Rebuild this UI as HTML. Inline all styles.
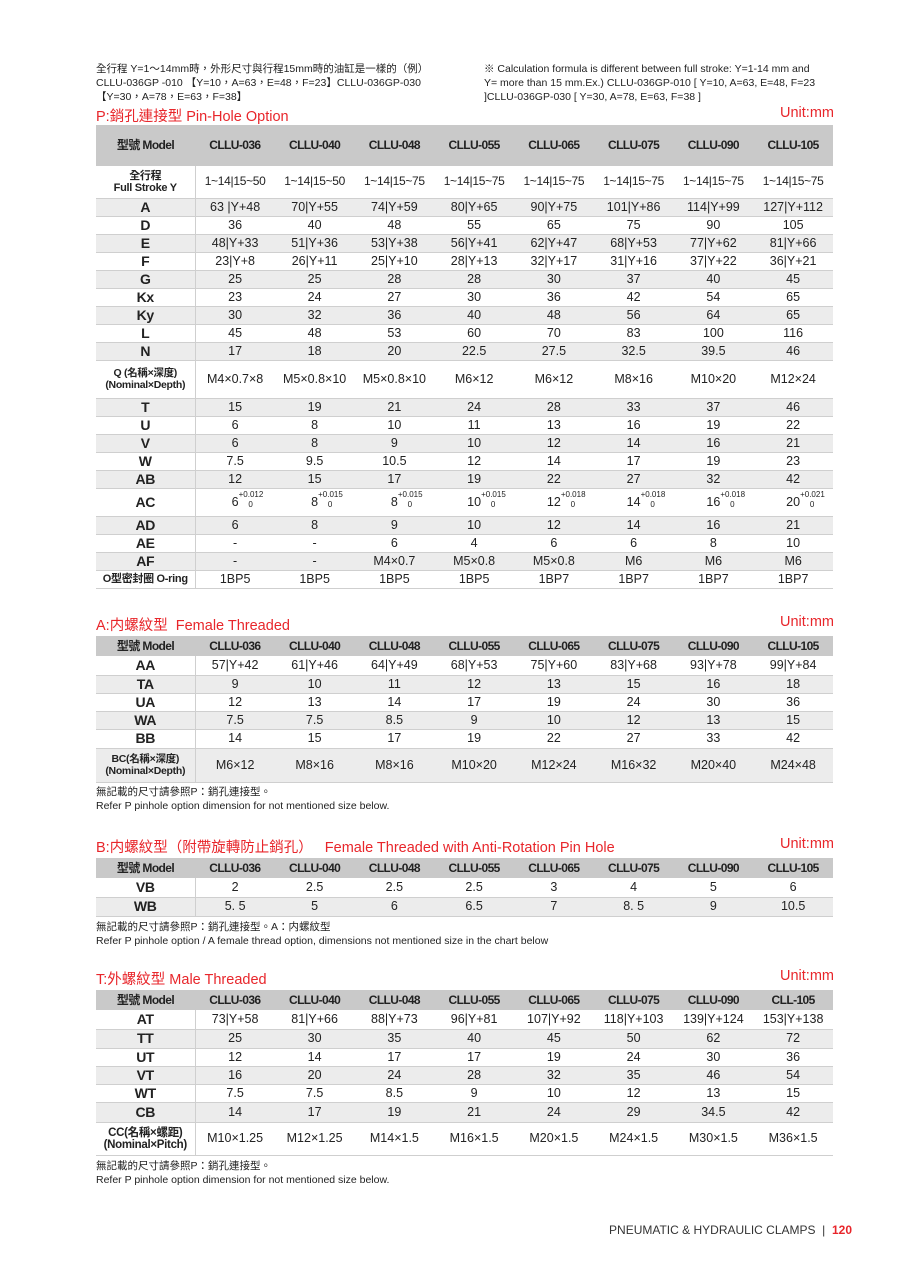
<!DOCTYPE html>
<html><head><meta charset="utf-8"><style>
*{margin:0;padding:0;box-sizing:border-box}
body{width:900px;height:1273px;background:#fff;position:relative;font-family:"Liberation Sans","Noto Sans CJK TC",sans-serif;color:#222;overflow:hidden}
.t{position:absolute;font-size:10.5px;line-height:14px;color:#222}
.red{position:absolute;color:#e8262b;font-size:14.5px;font-weight:normal}
.unit{position:absolute;right:66px;color:#e8262b;font-size:14.5px}
table{position:absolute;left:96px;width:737px;border-collapse:collapse;table-layout:fixed}
td{text-align:center;font-size:12.5px;padding:0;border-bottom:1.5px solid #cfcfcf;white-space:nowrap;line-height:13px}
td:first-child{width:99px;font-weight:bold;font-size:14px;border-right:1.5px solid #cfcfcf;letter-spacing:-0.3px}
tr.h td{background:#c9c9c9;font-weight:bold;font-size:12px;letter-spacing:-0.6px;border-right:none;border-bottom:none}
tr.h td:first-child{font-size:12px}
tr.g td{background:#ececec}
td.s{font-size:10.5px;line-height:12px}
tr.fs td{font-size:12px;letter-spacing:-0.3px}
.ac{display:inline-block;position:relative}
.ac span{position:absolute;left:100%;font-size:8px;line-height:10px;text-align:center;width:24px}
</style></head><body>
<div class="t" style="left:96px;top:62px;width:360px">全行程 Y=1～14mm時，外形尺寸與行程15mm時的油缸是一樣的（例）<br>CLLU-036GP -010 【Y=10，A=63，E=48，F=23】CLLU-036GP-030<br>【Y=30，A=78，E=63，F=38】</div>
<div class="t" style="left:484px;top:62px;width:360px">※ Calculation formula is different between full stroke: Y=1-14 mm and<br>Y= more than 15 mm.Ex.) CLLU-036GP-010 [ Y=10, A=63, E=48, F=23<br>]CLLU-036GP-030 [ Y=30, A=78, E=63, F=38 ]</div>
<div class="red" style="left:96px;top:105px">P:銷孔連接型 Pin-Hole Option</div>
<div class="unit" style="top:105px">Unit:mm</div>
<table style="top:125px">
<tr class="h" style="height:41px"><td>型號 Model</td><td>CLLU-036</td><td>CLLU-040</td><td>CLLU-048</td><td>CLLU-055</td><td>CLLU-065</td><td>CLLU-075</td><td>CLLU-090</td><td>CLLU-105</td></tr>
<tr class="fs" style="height:32px"><td class="s" style="font-size:11px">全行程<br>Full Stroke Y</td><td>1~14|15~50</td><td>1~14|15~50</td><td>1~14|15~75</td><td>1~14|15~75</td><td>1~14|15~75</td><td>1~14|15~75</td><td>1~14|15~75</td><td>1~14|15~75</td></tr>
<tr class="g" style="height:18px"><td>A</td><td>63 |Y+48</td><td>70|Y+55</td><td>74|Y+59</td><td>80|Y+65</td><td>90|Y+75</td><td>101|Y+86</td><td>114|Y+99</td><td>127|Y+112</td></tr>
<tr style="height:18px"><td>D</td><td>36</td><td>40</td><td>48</td><td>55</td><td>65</td><td>75</td><td>90</td><td>105</td></tr>
<tr class="g" style="height:18px"><td>E</td><td>48|Y+33</td><td>51|Y+36</td><td>53|Y+38</td><td>56|Y+41</td><td>62|Y+47</td><td>68|Y+53</td><td>77|Y+62</td><td>81|Y+66</td></tr>
<tr style="height:18px"><td>F</td><td>23|Y+8</td><td>26|Y+11</td><td>25|Y+10</td><td>28|Y+13</td><td>32|Y+17</td><td>31|Y+16</td><td>37|Y+22</td><td>36|Y+21</td></tr>
<tr class="g" style="height:18px"><td>G</td><td>25</td><td>25</td><td>28</td><td>28</td><td>30</td><td>37</td><td>40</td><td>45</td></tr>
<tr style="height:18px"><td>Kx</td><td>23</td><td>24</td><td>27</td><td>30</td><td>36</td><td>42</td><td>54</td><td>65</td></tr>
<tr class="g" style="height:18px"><td>Ky</td><td>30</td><td>32</td><td>36</td><td>40</td><td>48</td><td>56</td><td>64</td><td>65</td></tr>
<tr style="height:18px"><td>L</td><td>45</td><td>48</td><td>53</td><td>60</td><td>70</td><td>83</td><td>100</td><td>116</td></tr>
<tr class="g" style="height:18px"><td>N</td><td>17</td><td>18</td><td>20</td><td>22.5</td><td>27.5</td><td>32.5</td><td>39.5</td><td>46</td></tr>
<tr style="height:38px"><td class="s">Q (名稱×深度)<br>(Nominal×Depth)</td><td>M4×0.7×8</td><td>M5×0.8×10</td><td>M5×0.8×10</td><td>M6×12</td><td>M6×12</td><td>M8×16</td><td>M10×20</td><td>M12×24</td></tr>
<tr class="g" style="height:18px"><td>T</td><td>15</td><td>19</td><td>21</td><td>24</td><td>28</td><td>33</td><td>37</td><td>46</td></tr>
<tr style="height:18px"><td>U</td><td>6</td><td>8</td><td>10</td><td>11</td><td>13</td><td>16</td><td>19</td><td>22</td></tr>
<tr class="g" style="height:18px"><td>V</td><td>6</td><td>8</td><td>9</td><td>10</td><td>12</td><td>14</td><td>16</td><td>21</td></tr>
<tr style="height:18px"><td>W</td><td>7.5</td><td>9.5</td><td>10.5</td><td>12</td><td>14</td><td>17</td><td>19</td><td>23</td></tr>
<tr class="g" style="height:18px"><td>AB</td><td>12</td><td>15</td><td>17</td><td>19</td><td>22</td><td>27</td><td>32</td><td>42</td></tr>
<tr style="height:28px"><td>AC</td><td><span class="ac">6<span style="top:-6px">+0.012<br>0</span></span></td><td><span class="ac">8<span style="top:-6px">+0.015<br>0</span></span></td><td><span class="ac">8<span style="top:-6px">+0.015<br>0</span></span></td><td><span class="ac">10<span style="top:-6px">+0.015<br>0</span></span></td><td><span class="ac">12<span style="top:-6px">+0.018<br>0</span></span></td><td><span class="ac">14<span style="top:-6px">+0.018<br>0</span></span></td><td><span class="ac">16<span style="top:-6px">+0.018<br>0</span></span></td><td><span class="ac">20<span style="top:-6px">+0.021<br>0</span></span></td></tr>
<tr class="g" style="height:18px"><td>AD</td><td>6</td><td>8</td><td>9</td><td>10</td><td>12</td><td>14</td><td>16</td><td>21</td></tr>
<tr style="height:18px"><td>AE</td><td>-</td><td>-</td><td>6</td><td>4</td><td>6</td><td>6</td><td>8</td><td>10</td></tr>
<tr class="g" style="height:18px"><td>AF</td><td>-</td><td>-</td><td>M4×0.7</td><td>M5×0.8</td><td>M5×0.8</td><td>M6</td><td>M6</td><td>M6</td></tr>
<tr style="height:18px"><td style="font-size:11px">O型密封圈 O-ring</td><td>1BP5</td><td>1BP5</td><td>1BP5</td><td>1BP5</td><td>1BP7</td><td>1BP7</td><td>1BP7</td><td>1BP7</td></tr>
</table>

<div class="red" style="left:96px;top:614px">A:内螺紋型&nbsp; Female Threaded</div>
<div class="unit" style="top:614px">Unit:mm</div>
<table style="top:636px">
<tr class="h" style="height:20px"><td>型號 Model</td><td>CLLU-036</td><td>CLLU-040</td><td>CLLU-048</td><td>CLLU-055</td><td>CLLU-065</td><td>CLLU-075</td><td>CLLU-090</td><td>CLLU-105</td></tr>
<tr style="height:19px"><td>AA</td><td>57|Y+42</td><td>61|Y+46</td><td>64|Y+49</td><td>68|Y+53</td><td>75|Y+60</td><td>83|Y+68</td><td>93|Y+78</td><td>99|Y+84</td></tr>
<tr class="g" style="height:18px"><td>TA</td><td>9</td><td>10</td><td>11</td><td>12</td><td>13</td><td>15</td><td>16</td><td>18</td></tr>
<tr style="height:18px"><td>UA</td><td>12</td><td>13</td><td>14</td><td>17</td><td>19</td><td>24</td><td>30</td><td>36</td></tr>
<tr class="g" style="height:18px"><td>WA</td><td>7.5</td><td>7.5</td><td>8.5</td><td>9</td><td>10</td><td>12</td><td>13</td><td>15</td></tr>
<tr style="height:19px"><td>BB</td><td>14</td><td>15</td><td>17</td><td>19</td><td>22</td><td>27</td><td>33</td><td>42</td></tr>
<tr class="g" style="height:34px"><td class="s">BC(名稱×深度)<br>(Nominal×Depth)</td><td>M6×12</td><td>M8×16</td><td>M8×16</td><td>M10×20</td><td>M12×24</td><td>M16×32</td><td>M20×40</td><td>M24×48</td></tr>
</table>
<div class="t" style="left:96px;top:785px">無記載的尺寸請參照P：銷孔連接型。<br>Refer P pinhole option dimension for not mentioned size below.</div>

<div class="red" style="left:96px;top:836px">B:内螺紋型（附帶旋轉防止銷孔）&nbsp;&nbsp; Female Threaded with Anti-Rotation Pin Hole</div>
<div class="unit" style="top:836px">Unit:mm</div>
<table style="top:858px">
<tr class="h" style="height:20px"><td>型號 Model</td><td>CLLU-036</td><td>CLLU-040</td><td>CLLU-048</td><td>CLLU-055</td><td>CLLU-065</td><td>CLLU-075</td><td>CLLU-090</td><td>CLLU-105</td></tr>
<tr style="height:19px"><td>VB</td><td>2</td><td>2.5</td><td>2.5</td><td>2.5</td><td>3</td><td>4</td><td>5</td><td>6</td></tr>
<tr class="g" style="height:19px"><td>WB</td><td>5. 5</td><td>5</td><td>6</td><td>6.5</td><td>7</td><td>8. 5</td><td>9</td><td>10.5</td></tr>
</table>
<div class="t" style="left:96px;top:920px">無記載的尺寸請參照P：銷孔連接型。A：内螺紋型<br>Refer P pinhole option / A female thread option, dimensions not mentioned size in the chart below</div>

<div class="red" style="left:96px;top:968px">T:外螺紋型 Male Threaded</div>
<div class="unit" style="top:968px">Unit:mm</div>
<table style="top:990px">
<tr class="h" style="height:20px"><td>型號 Model</td><td>CLLU-036</td><td>CLLU-040</td><td>CLLU-048</td><td>CLLU-055</td><td>CLLU-065</td><td>CLLU-075</td><td>CLLU-090</td><td>CLL-105</td></tr>
<tr style="height:19px"><td>AT</td><td>73|Y+58</td><td>81|Y+66</td><td>88|Y+73</td><td>96|Y+81</td><td>107|Y+92</td><td>118|Y+103</td><td>139|Y+124</td><td>153|Y+138</td></tr>
<tr class="g" style="height:19px"><td>TT</td><td>25</td><td>30</td><td>35</td><td>40</td><td>45</td><td>50</td><td>62</td><td>72</td></tr>
<tr style="height:18px"><td>UT</td><td>12</td><td>14</td><td>17</td><td>17</td><td>19</td><td>24</td><td>30</td><td>36</td></tr>
<tr class="g" style="height:18px"><td>VT</td><td>16</td><td>20</td><td>24</td><td>28</td><td>32</td><td>35</td><td>46</td><td>54</td></tr>
<tr style="height:18px"><td>WT</td><td>7.5</td><td>7.5</td><td>8.5</td><td>9</td><td>10</td><td>12</td><td>13</td><td>15</td></tr>
<tr class="g" style="height:20px"><td>CB</td><td>14</td><td>17</td><td>19</td><td>21</td><td>24</td><td>29</td><td>34.5</td><td>42</td></tr>
<tr style="height:33px"><td class="s" style="font-size:11.5px">CC(名稱×螺距)<br>(Nominal×Pitch)</td><td>M10×1.25</td><td>M12×1.25</td><td>M14×1.5</td><td>M16×1.5</td><td>M20×1.5</td><td>M24×1.5</td><td>M30×1.5</td><td>M36×1.5</td></tr>
</table>
<div class="t" style="left:96px;top:1159px">無記載的尺寸請參照P：銷孔連接型。<br>Refer P pinhole option dimension for not mentioned size below.</div>

<div style="position:absolute;right:48px;top:1223px;font-size:12px;color:#333">PNEUMATIC &amp; HYDRAULIC CLAMPS &nbsp;|&nbsp; <b style="color:#e8262b">120</b></div>
</body></html>
